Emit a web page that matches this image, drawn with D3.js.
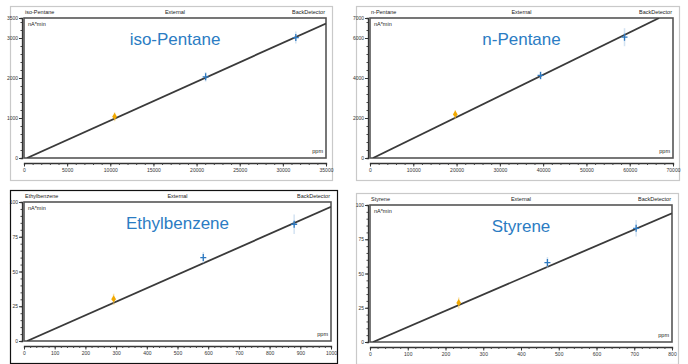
<!DOCTYPE html>
<html>
<head>
<meta charset="utf-8">
<script src="https://cdn.jsdelivr.net/npm/d3@7"></script>
<style>
  body { margin: 0; background: #fff; }
  svg { display: block; font-family: "Liberation Sans", Arial, sans-serif; }
  .tick text { font-size: 5px; fill: #333; }
  .hdr { font-size: 5.5px; fill: #222; }
</style>
</head>
<body>
<svg id="chart" width="688" height="364"></svg>
<script>
// calibration curves, one per compound
const compounds = ["iso-Pentane", "n-Pentane", "Ethylbenzene", "Styrene"];
const xMax = [35000, 70000, 1000, 800];
const yMax = [3500, 7000, 100, 100];
const xTickStep = [5000, 10000, 100, 100];
const yTickValues = [
  [0, 1000, 2000, 3000, 3500],
  [0, 2000, 4000, 6000, 7000],
  [0, 25, 50, 75, 100],
  [0, 25, 50, 75, 100]
];
const yMinorStep = [200, 400, 5, 5];
const slopes = [0.0961, 0.1048, 0.0965, 0.1175];

// calibration levels (ppm) and responses (nA*min); first level is the orange one
const isoPentaneX = [10500, 21050, 31500];
const isoPentaneY = [1030, 2030, 3010];
const isoPentaneSpread = [110, 120, 150];
const nPentaneX = [19700, 39400, 58800];
const nPentaneY = [2170, 4130, 6040];
const nPentaneSpread = [220, 220, 450];
const ethylbenzeneX = [292, 584, 880];
const ethylbenzeneY = [30, 60, 84];
const ethylbenzeneSpread = [4, 4, 7];
const styreneX = [235, 470, 705];
const styreneY = [28.5, 58, 83];
const styreneSpread = [4, 4, 6];

const pointsX = [isoPentaneX, nPentaneX, ethylbenzeneX, styreneX];
const pointsY = [isoPentaneY, nPentaneY, ethylbenzeneY, styreneY];
const spreads = [isoPentaneSpread, nPentaneSpread, ethylbenzeneSpread, styreneSpread];

// panel frames on the page
const frames = [
  {x: 10, y: 6, w: 322, h: 174, border: "#c9c9c9"},
  {x: 356, y: 6, w: 323, h: 174, border: "#c9c9c9"},
  {x: 10, y: 190, w: 327, h: 173, border: "#111"},
  {x: 356, y: 193, w: 322, h: 171, border: "#c9c9c9"}
];
const margin = {top: 12, right: 6, bottom: 22, left: 14};

const svg = d3.select("#chart");
const fmt = d3.format("d");

compounds.forEach((name, i) => {
  const f = frames[i];
  const left = f.x + margin.left, right = f.x + f.w - margin.right;
  const top = f.y + margin.top, bottom = f.y + f.h - margin.bottom;

  const x = d3.scaleLinear().domain([0, xMax[i]]).range([left, right]);
  const y = d3.scaleLinear().domain([0, yMax[i]]).range([bottom, top]);

  const g = svg.append("g");

  // outer frame
  g.append("rect")
    .attr("x", f.x + 0.5).attr("y", f.y + 0.5)
    .attr("width", f.w).attr("height", f.h)
    .attr("fill", "#fff")
    .attr("stroke", f.border)
    .attr("stroke-width", 1.2);

  // header row
  g.append("text").attr("class", "hdr").attr("x", left + 1).attr("y", f.y + 8).text(name);
  g.append("text").attr("class", "hdr").attr("x", (left + right) / 2).attr("y", f.y + 8)
    .attr("text-anchor", "middle").text("External");
  g.append("text").attr("class", "hdr").attr("x", right - 1).attr("y", f.y + 8)
    .attr("text-anchor", "end").text("BackDetector");

  // plot box
  g.append("rect")
    .attr("x", left).attr("y", top)
    .attr("width", right - left).attr("height", bottom - top)
    .attr("fill", "#fff")
    .attr("stroke", "#555")
    .attr("stroke-width", 1.6);

  // y axis
  const yMinor = d3.range(0, yMax[i] + 1e-9, yMinorStep[i]);
  const ya = g.append("g")
    .attr("transform", `translate(${left - 2},0)`)
    .call(d3.axisLeft(y).tickValues(yMinor).tickSize(1.5).tickFormat(""));
  ya.select(".domain").attr("stroke", "#333").attr("stroke-width", 1.3);
  ya.selectAll("line").attr("stroke", "#444");
  const yMaj = g.append("g")
    .attr("transform", `translate(${left - 2},0)`)
    .call(d3.axisLeft(y).tickValues(yTickValues[i]).tickSize(3).tickPadding(1).tickFormat(fmt));
  yMaj.select(".domain").remove();
  yMaj.selectAll("line").attr("stroke", "#333");

  // x axis
  const xMinor = d3.range(0, xMax[i] + 1e-9, xTickStep[i] / 5);
  const xa = g.append("g")
    .attr("transform", `translate(0,${bottom + 5})`)
    .call(d3.axisBottom(x).tickValues(xMinor).tickSize(2).tickFormat(""));
  xa.select(".domain").attr("stroke", "#333").attr("stroke-width", 1.3);
  xa.selectAll("line").attr("stroke", "#444");
  const xMaj = g.append("g")
    .attr("transform", `translate(0,${bottom + 5})`)
    .call(d3.axisBottom(x).tickValues(d3.range(0, xMax[i] + 1e-9, xTickStep[i]))
      .tickSize(3.5).tickPadding(1.5).tickFormat(fmt));
  xMaj.select(".domain").remove();
  xMaj.selectAll("line").attr("stroke", "#333");

  // units
  g.append("text").attr("class", "hdr").attr("x", left + 4).attr("y", top + 8).text("nA*min");
  g.append("text").attr("class", "hdr").attr("x", right - 3).attr("y", bottom - 5)
    .attr("text-anchor", "end").text("ppm");

  // clip for the fit line
  const clipId = "clip" + i;
  svg.append("clipPath").attr("id", clipId)
    .append("rect").attr("x", left).attr("y", top)
    .attr("width", right - left).attr("height", bottom - top);

  const xEnd = Math.min(xMax[i], yMax[i] / slopes[i]);
  g.append("line")
    .attr("clip-path", `url(#${clipId})`)
    .attr("x1", x(xMax[i] * 0.01)).attr("y1", y(0))
    .attr("x2", x(xEnd)).attr("y2", y(xEnd * slopes[i]))
    .attr("stroke", "#3a3a3a")
    .attr("stroke-width", 1.8);

  // replicate spread (faint)
  const pts = pointsX[i].map((px, k) => ({x: px, y: pointsY[i][k], s: spreads[i][k], level: k}));
  g.selectAll(".spread").data(pts).enter().append("line")
    .attr("x1", d => x(d.x)).attr("x2", d => x(d.x))
    .attr("y1", d => y(d.y + d.s)).attr("y2", d => y(d.y - d.s))
    .attr("stroke", d => d.level === 0 ? "#f3c75a" : "#a9c8e6")
    .attr("stroke-width", 1.5)
    .attr("opacity", 0.5);

  // blue "+" markers
  g.selectAll(".plus").data(pts.filter(d => d.level > 0)).enter().append("path")
    .attr("transform", d => `translate(${x(d.x)},${y(d.y)})`)
    .attr("d", "M-3,0H3M0,-3.5V3.5")
    .attr("stroke", "#2e79c0")
    .attr("stroke-width", 1.3);

  // orange diamond
  g.selectAll(".dia").data(pts.filter(d => d.level === 0)).enter().append("path")
    .attr("transform", d => `translate(${x(d.x)},${y(d.y)})`)
    .attr("d", "M0,-4L2.4,0L0,3L-2.4,0Z")
    .attr("fill", "#f2a900");

  // compound name
  g.append("text")
    .attr("x", (left + right) / 2)
    .attr("y", top + 27)
    .attr("text-anchor", "middle")
    .attr("font-size", 17)
    .attr("fill", "#2b7cc3")
    .text(name);
});
</script>
</body>
</html>
